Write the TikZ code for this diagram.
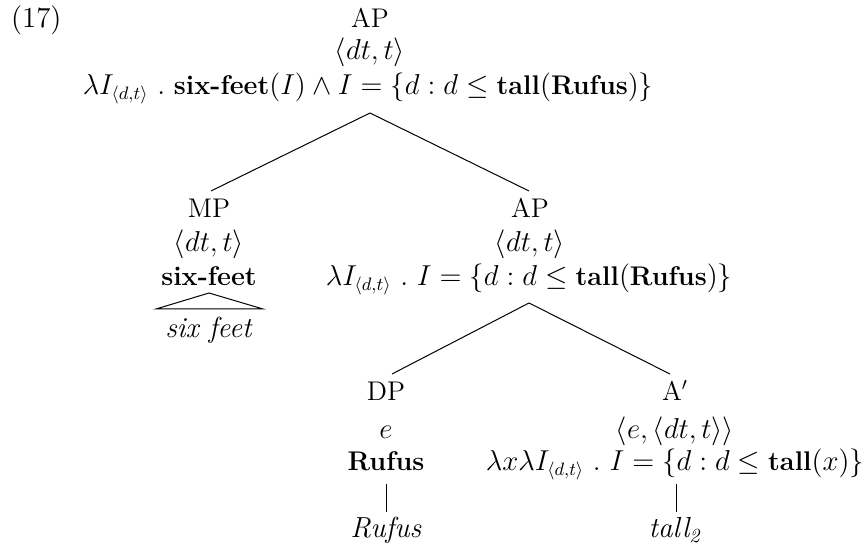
\documentclass[tikz,border=0pt]{standalone}
\begin{document}
\begin{tikzpicture}[x=0.5pt,y=-0.5pt,
  every node/.style={inner sep=0pt, outer sep=0pt, anchor=base, font=\fontsize{13.5}{16}\selectfont},
  leaf/.style={font=\fontsize{14.5}{17}\selectfont},
  branch/.style={draw=black, line width=0.5pt}]
\useasboundingbox (0,0) rectangle (862,550);
\node[anchor=base west, font=\fontsize{14.5}{17}\selectfont] (ex) at (11,28) {(17)};
% root
\node (ap0) at (370,28) {AP};
\node (ap0t) at (370,60) {$\langle dt,t\rangle$};
\node (ap0f) at (368,95) {$\lambda I_{\langle d,t\rangle}\ .\ \textbf{six-feet}(I)\wedge I=\{d:d\leq\textbf{tall}(\textbf{Rufus})\}$};
\coordinate (r0) at (370,113);
% MP
\node (mp) at (209,218) {MP};
\node (mpt) at (209,252) {$\langle dt,t\rangle$};
\node (mpf) at (209,286) {\textbf{six-feet}};
\coordinate (mptop) at (211,191);
\coordinate (tri) at (209,293);
\coordinate (tril) at (156,309);
\coordinate (trir) at (263,309);
\node[leaf] (mpl) at (209,338) {\textit{six feet}};
% AP right
\node (ap1) at (530,218) {AP};
\node (ap1t) at (530,252) {$\langle dt,t\rangle$};
\node (ap1f) at (529,286) {$\lambda I_{\langle d,t\rangle}\ .\ I=\{d:d\leq\textbf{tall}(\textbf{Rufus})\}$};
\coordinate (ap1top) at (529,191);
\coordinate (r1) at (529,303);
% DP
\node (dp) at (386,401) {DP};
\node (dpt) at (386,438) {$e$};
\node (dpf) at (386,471) {\textbf{Rufus}};
\coordinate (dptop) at (392,374);
\coordinate (dpa) at (386,484);
\coordinate (dpb) at (386,512);
\node[leaf] (dpl) at (386,538) {\textit{Rufus}};
% A'
\node (ab) at (675,401) {A$'$};
\node (abt) at (675,438) {$\langle e,\langle dt,t\rangle\rangle$};
\node (abf) at (675,471) {$\lambda x\lambda I_{\langle d,t\rangle}\ .\ I=\{d:d\leq\textbf{tall}(x)\}$};
\coordinate (abtop) at (670,374);
\coordinate (aba) at (676,484);
\coordinate (abb) at (676,512);
\node[leaf] (abl) at (676,538) {$\textit{tall}_{\mathit{2}}$};
% branches
\draw[branch] (r0) -- (mptop);
\draw[branch] (r0) -- (ap1top);
\draw[branch] (r1) -- (dptop);
\draw[branch] (r1) -- (abtop);
\draw[branch] (tri) -- (tril) -- (trir) -- cycle;
\draw[branch] (dpa) -- (dpb);
\draw[branch] (aba) -- (abb);
\end{tikzpicture}
\end{document}
